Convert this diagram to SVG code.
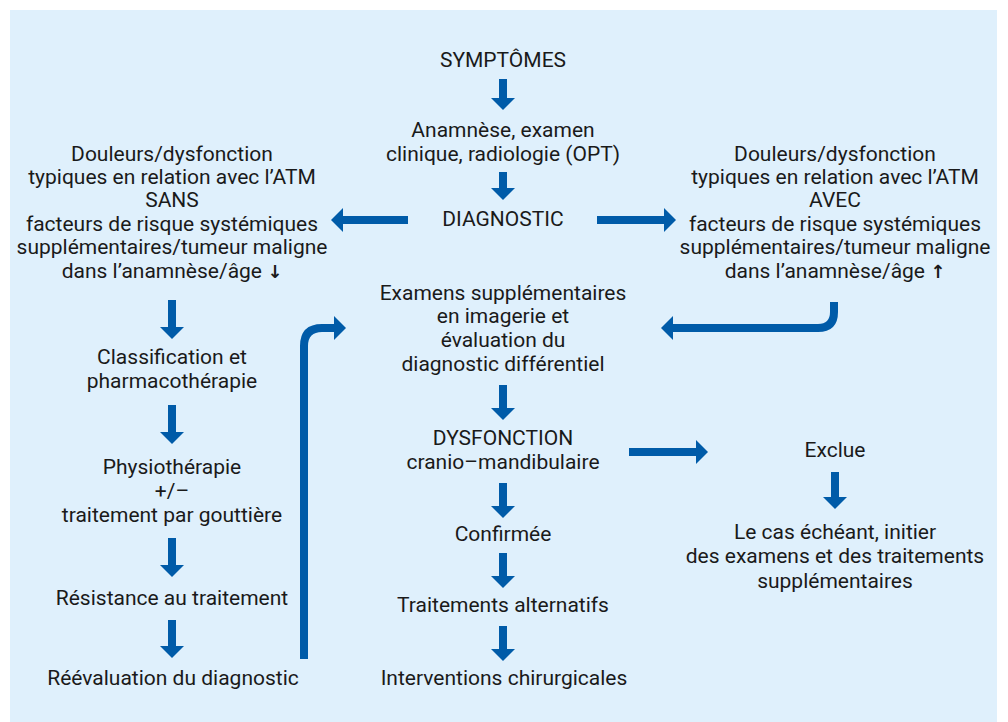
<svg xmlns="http://www.w3.org/2000/svg" width="1008" height="722" viewBox="0 0 1008 722">
<style>
.t{font-family:Roboto,"Open Sans","Liberation Sans",sans-serif;font-size:21px;fill:#1a1a1a;text-anchor:middle}
.ar{font-family:"DejaVu Sans",sans-serif;font-weight:700;font-size:18px}
.a{fill:none;stroke:#005ba8;stroke-width:8;marker-end:url(#h)}
</style>
<defs>
<marker id="h" viewBox="0 0 12 24" markerWidth="12" markerHeight="24" refX="0" refY="12" orient="auto" markerUnits="userSpaceOnUse">
<path d="M0,0 L12,12 L0,24 z" fill="#005ba8"/>
</marker>
</defs>
<rect x="10" y="10" width="987" height="712" fill="#dff0fc"/>
<g id="connectors">
<line class="a" x1="503" y1="79" x2="503" y2="98"/>
<line class="a" x1="503" y1="172" x2="503" y2="188"/>
<line class="a" x1="408" y1="220" x2="343" y2="220"/>
<line class="a" x1="597" y1="220" x2="664" y2="220"/>
<line class="a" x1="172" y1="300" x2="172" y2="327"/>
<line class="a" x1="172" y1="405" x2="172" y2="432"/>
<line class="a" x1="172" y1="538" x2="172" y2="565"/>
<line class="a" x1="172" y1="620" x2="172" y2="646"/>
<path class="a" d="M304,659 V346 Q304,328 322,328 H334"/>
<path class="a" d="M834,302 V312 Q834,328 818,328 H673"/>
<line class="a" x1="503" y1="385" x2="503" y2="408"/>
<line class="a" x1="503" y1="483" x2="503" y2="506"/>
<line class="a" x1="503" y1="553" x2="503" y2="576"/>
<line class="a" x1="503" y1="626" x2="503" y2="649"/>
<line class="a" x1="629" y1="452" x2="696" y2="452"/>
<line class="a" x1="835" y1="472" x2="835" y2="497"/>
</g>
<g id="symptomes"><text class="t" x="503" y="67">SYMPTÔMES</text></g>
<g id="anamnese"><text class="t" x="503" y="137">Anamnèse, examen</text><text class="t" x="503" y="161">clinique, radiologie (OPT)</text></g>
<g id="diagnostic"><text class="t" x="503" y="226">DIAGNOSTIC</text></g>
<g id="sans">
<text class="t" x="172" y="161">Douleurs/dysfonction</text>
<text class="t" x="172" y="184">typiques en relation avec l’ATM</text>
<text class="t" x="172" y="207">SANS</text>
<text class="t" x="172" y="231">facteurs de risque systémiques</text>
<text class="t" x="172" y="254">supplémentaires/tumeur maligne</text>
<text class="t" x="172" y="278">dans l’anamnèse/âge <tspan class="ar">↓</tspan></text>
</g>
<g id="avec">
<text class="t" x="835" y="161">Douleurs/dysfonction</text>
<text class="t" x="835" y="184">typiques en relation avec l’ATM</text>
<text class="t" x="835" y="207">AVEC</text>
<text class="t" x="835" y="231">facteurs de risque systémiques</text>
<text class="t" x="835" y="254">supplémentaires/tumeur maligne</text>
<text class="t" x="835" y="278">dans l’anamnèse/âge <tspan class="ar">↑</tspan></text>
</g>
<g id="examens">
<text class="t" x="503" y="300">Examens supplémentaires</text>
<text class="t" x="503" y="323">en imagerie et</text>
<text class="t" x="503" y="347">évaluation du</text>
<text class="t" x="503" y="371">diagnostic différentiel</text>
</g>
<g id="classification"><text class="t" x="172" y="364">Classification et</text><text class="t" x="172" y="388">pharmacothérapie</text></g>
<g id="physio"><text class="t" x="172" y="474">Physiothérapie</text><text class="t" x="172" y="498">+/–</text><text class="t" x="172" y="522">traitement par gouttière</text></g>
<g id="resistance"><text class="t" x="172" y="605">Résistance au traitement</text></g>
<g id="reevaluation"><text class="t" x="173" y="685">Réévaluation du diagnostic</text></g>
<g id="dysfonction"><text class="t" x="503" y="445">DYSFONCTION</text><text class="t" x="503" y="469">cranio–mandibulaire</text></g>
<g id="confirmee"><text class="t" x="503" y="541">Confirmée</text></g>
<g id="alternatifs"><text class="t" x="503" y="612">Traitements alternatifs</text></g>
<g id="chirurgicales"><text class="t" x="504" y="685">Interventions chirurgicales</text></g>
<g id="exclue"><text class="t" x="835" y="457">Exclue</text></g>
<g id="lecas">
<text class="t" x="835" y="539">Le cas échéant, initier</text>
<text class="t" x="835" y="563">des examens et des traitements</text>
<text class="t" x="835" y="588">supplémentaires</text>
</g>
</svg>
